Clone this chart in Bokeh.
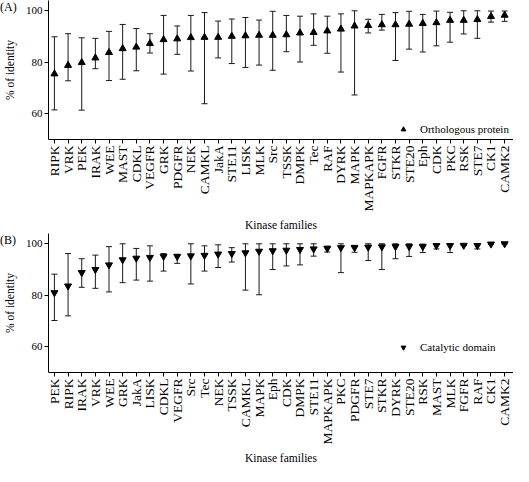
import math
from bokeh.plotting import figure
from bokeh.models import (ColumnDataSource, Whisker, TeeHead, Range1d, FixedTicker,
                          Legend, LegendItem, Div)
from bokeh.layouts import column
from bokeh.embed import file_html
from bokeh.resources import INLINE

# ---------------- data ----------------
families_a = ["RIPK", "VRK", "PEK", "IRAK", "WEE", "MAST", "CDKL", "VEGFR", "GRK", "PDGFR",
              "NEK", "CAMKL", "JakA", "STE11", "LISK", "MLK", "Src", "TSSK", "DMPK", "Tec",
              "RAF", "DYRK", "MAPK", "MAPKAPK", "FGFR", "STKR", "STE20", "Eph", "CDK", "PKC",
              "RSK", "STE7", "CK1", "CAMK2"]
ident_a = [75.5, 78.8, 79.9, 81.7, 83.8, 85.3, 85.9, 87.3, 88.8, 89.1,
           89.6, 89.7, 89.7, 90.1, 90.3, 90.5, 90.5, 90.7, 91.4, 91.6,
           92.2, 92.9, 94.1, 94.3, 94.6, 94.6, 94.8, 95.1, 95.4, 96.3,
           96.3, 96.6, 97.8, 98.3]
upper_a = [89.9, 91.1, 89.5, 89.3, 92.0, 94.7, 93.1, 91.1, 98.2, 94.1,
           98.2, 99.3, 96.0, 96.8, 97.4, 96.4, 99.8, 98.2, 97.9, 98.8,
           97.9, 98.8, 100.0, 96.7, 98.6, 99.3, 99.8, 98.6, 99.9, 99.4,
           100.0, 100.0, 99.9, 99.9]
lower_a = [61.5, 72.8, 61.4, 77.5, 72.9, 73.4, 76.7, 83.6, 75.4, 83.1,
           76.6, 63.9, 81.7, 79.5, 78.0, 78.9, 76.9, 84.1, 80.1, 86.6,
           83.5, 76.2, 67.3, 91.4, 92.5, 80.7, 85.1, 84.0, 86.4, 87.8,
           91.0, 89.3, 95.6, 95.9]

families_b = ["PEK", "RIPK", "IRAK", "VRK", "WEE", "GRK", "JakA", "LISK", "CDKL", "VEGFR",
              "Src", "Tec", "NEK", "TSSK", "CAMKL", "MAPK", "Eph", "CDK", "DMPK", "STE11",
              "MAPKAPK", "PKC", "PDGFR", "STE7", "STKR", "DYRK", "STE20", "RSK", "MAST", "MLK",
              "FGFR", "RAF", "CK1", "CAMK2"]
ident_b = [81.0, 83.6, 88.8, 90.0, 91.8, 93.8, 94.4, 94.7, 95.1, 95.1,
           95.3, 95.5, 96.0, 96.2, 96.5, 97.1, 97.3, 97.5, 97.8, 98.0,
           98.2, 98.5, 98.5, 98.7, 98.8, 98.9, 98.9, 98.9, 99.3, 99.3,
           99.4, 99.3, 99.9, 100.0]
upper_b = [88.2, 96.2, 94.2, 95.6, 98.9, 100.0, 98.2, 99.2, 96.2, 95.9,
           100.0, 99.2, 99.6, 98.5, 100.0, 100.0, 100.0, 100.0, 100.0, 100.0,
           99.1, 100.0, 99.4, 100.0, 100.0, 100.0, 100.0, 99.9, 99.9, 99.9,
           99.4, 99.8, 99.9, 100.0]
lower_b = [70.2, 72.0, 83.1, 82.7, 81.3, 84.9, 85.9, 85.5, 89.4, 92.4,
           84.4, 89.4, 90.8, 92.9, 82.0, 80.2, 90.0, 91.4, 91.8, 95.2,
           96.8, 88.8, 96.7, 93.5, 90.0, 94.2, 95.1, 96.6, 98.0, 96.6,
           99.4, 98.0, 99.9, 100.0]

y_ticks = [60, 80, 100]

FONT = "Liberation Serif"
INK = "#1a1a1a"
TAG_H = 14


def make_tag(tag):
    return Div(text=tag, width=30, height=TAG_H, margin=(0, 0, 0, 0),
               styles={"font-family": FONT, "font-size": "12px", "color": "black",
                       "line-height": "14px"})


def make_panel(families, ident, upper, lower, marker, legend_label, legend_y):
    n = len(families)
    xs = list(range(1, n + 1))
    src = ColumnDataSource(dict(x=xs, y=ident, upper=upper, lower=lower))
    p = figure(width=513, height=233, output_backend="svg", toolbar_location=None,
               x_range=Range1d(0.565, 34.65), y_range=Range1d(50, 104),
               min_border_left=43, min_border_right=0, min_border_top=0, min_border_bottom=0,
               margin=(-TAG_H, 0, 0, 0))
    p.outline_line_color = None
    p.grid.visible = False
    p.background_fill_color = None
    p.border_fill_color = None

    w = Whisker(base="x", upper="upper", lower="lower", source=src,
                line_color=INK, line_width=1,
                upper_head=TeeHead(size=6, line_color=INK, line_width=1),
                lower_head=TeeHead(size=6, line_color=INK, line_width=1))
    p.add_layout(w)
    r = p.scatter("x", "y", source=src, marker=marker, size=7,
                  fill_color="black", line_color="black")

    # x axis
    xa = p.xaxis[0]
    xa.ticker = FixedTicker(ticks=xs)
    xa.major_label_overrides = {i: f for i, f in zip(xs, families)}
    xa.major_label_orientation = math.pi / 2
    xa.major_tick_out = 4
    xa.major_tick_in = 0
    xa.minor_tick_line_color = None
    xa.major_label_standoff = 2
    xa.major_label_text_font = FONT
    xa.major_label_text_font_size = "13.5px"
    xa.major_label_text_color = "black"
    xa.axis_label = "Kinase families"
    xa.axis_label_text_font = FONT
    xa.axis_label_text_font_size = "11.5px"
    xa.axis_label_text_font_style = "normal"
    xa.axis_label_text_color = "black"
    xa.axis_label_standoff = 4
    xa.axis_line_color = "black"
    xa.major_tick_line_color = "black"

    # y axis
    ya = p.yaxis[0]
    ya.ticker = FixedTicker(ticks=y_ticks)
    ya.major_tick_out = 4
    ya.major_tick_in = 0
    ya.minor_tick_line_color = None
    ya.major_label_standoff = 2
    ya.major_label_text_font = FONT
    ya.major_label_text_font_size = "11px"
    ya.major_label_text_color = "black"
    ya.axis_label = "% of identity"
    ya.axis_label_text_font = FONT
    ya.axis_label_text_font_size = "11.5px"
    ya.axis_label_text_font_style = "normal"
    ya.axis_label_text_color = "black"
    ya.axis_label_standoff = 7
    ya.axis_line_color = "black"
    ya.major_tick_line_color = "black"

    legend = Legend(items=[LegendItem(label=legend_label, renderers=[r])],
                    location=(348, legend_y), border_line_color=None,
                    background_fill_alpha=0, padding=0, margin=0,
                    glyph_width=14, glyph_height=12, label_standoff=10,
                    label_height=12,
                    label_text_font=FONT, label_text_font_size="11px",
                    label_text_color="black")
    p.add_layout(legend)
    return p


pa = make_panel(families_a, ident_a, upper_a, lower_a,
                "triangle", "Orthologous protein", 4)
pb = make_panel(families_b, ident_b, upper_b, lower_b,
                "inverted_triangle", "Catalytic domain", 19)

layout = column(make_tag("(A)"), pa, make_tag("(B)"), pb, spacing=0)
open("out.html", "w").write(file_html(layout, INLINE))
